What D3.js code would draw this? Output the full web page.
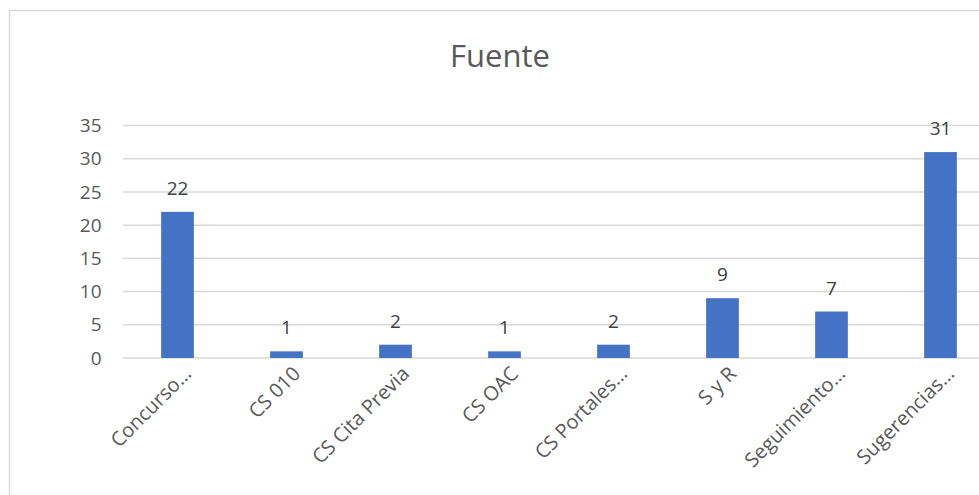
<!DOCTYPE html>
<html>
<head>
<meta charset="utf-8">
<script src="https://cdn.jsdelivr.net/npm/d3@7"></script>
<style>
  body { margin: 0; background: #fff; }
  svg { display: block; font-family: "Segoe UI", "Open Sans", "Noto Sans", sans-serif; }
</style>
</head>
<body>
<div id="chart"></div>
<script>
const categories = ["Concurso…", "CS 010", "CS Cita Previa", "CS OAC", "CS Portales…", "S y R", "Seguimiento…", "Sugerencias…"];
const values = [22, 1, 2, 1, 2, 9, 7, 31];
const yTicks = [0, 5, 10, 15, 20, 25, 30, 35];

const W = 979, H = 495;
const svg = d3.select("#chart").append("svg").attr("width", W).attr("height", H);

// chart frame (cropped on the right and bottom)
svg.append("rect")
  .attr("x", 9.5).attr("y", 10.5)
  .attr("width", 1100).attr("height", 600)
  .attr("fill", "#fff").attr("stroke", "#d9d9d9").attr("stroke-width", 1.5);

svg.append("text")
  .attr("x", 500).attr("y", 67)
  .attr("text-anchor", "middle")
  .attr("font-size", 31)
  .attr("fill", "#595959")
  .text("Fuente");

const x = d3.scaleBand().domain(categories).range([123, 995]).paddingInner(0.7).paddingOuter(0.35);
const y = d3.scaleLinear().domain([0, 35]).range([358, 125.5]);

// gridlines
svg.append("g")
  .selectAll("line")
  .data(yTicks)
  .join("line")
  .attr("x1", 123).attr("x2", W)
  .attr("y1", d => y(d)).attr("y2", d => y(d))
  .attr("stroke", "#d9d9d9").attr("stroke-width", 1.5);

// y tick labels
svg.append("g")
  .selectAll("text")
  .data(yTicks)
  .join("text")
  .attr("x", 101.5).attr("y", d => y(d))
  .attr("dy", "0.35em")
  .attr("text-anchor", "end")
  .attr("font-size", 19)
  .attr("fill", "#595959")
  .text(d => d);

// bars
svg.append("g")
  .selectAll("rect")
  .data(values)
  .join("rect")
  .attr("x", (d, i) => x(categories[i]))
  .attr("width", x.bandwidth())
  .attr("y", d => y(d))
  .attr("height", d => y(0) - y(d))
  .attr("fill", "#4472c4");

// data labels
svg.append("g")
  .selectAll("text")
  .data(values)
  .join("text")
  .attr("x", (d, i) => x(categories[i]) + x.bandwidth() / 2)
  .attr("y", d => y(d) - 17)
  .attr("text-anchor", "middle")
  .attr("font-size", 19)
  .attr("fill", "#404040")
  .text(d => d);

// x labels
svg.append("g")
  .selectAll("text")
  .data(categories)
  .join("text")
  .attr("transform", d => `translate(${x(d) + x.bandwidth() / 2 + 15},${375}) rotate(-45)`)
  .attr("text-anchor", "end")
  .attr("font-size", 20)
  .attr("fill", "#595959")
  .text(d => d);
</script>
</body>
</html>
